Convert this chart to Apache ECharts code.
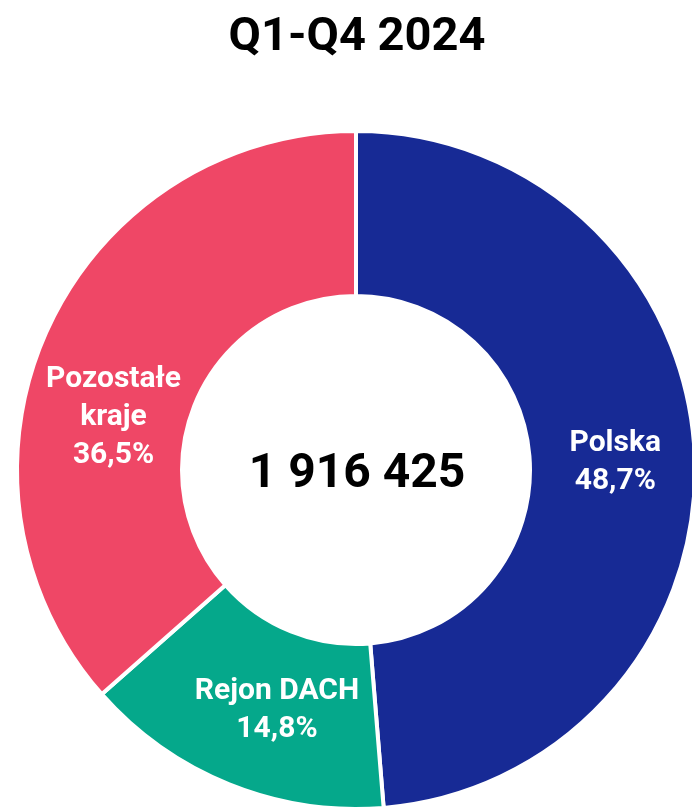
<!DOCTYPE html>
<html>
<head>
<meta charset="utf-8">
<script src="https://cdn.jsdelivr.net/npm/echarts@6/dist/echarts.min.js"></script>
<style>
  html, body { margin: 0; padding: 0; background: #ffffff; }
  #chart { width: 692px; height: 810px; }
</style>
</head>
<body>
<div id="chart"></div>
<script>
const titleText = 'Q1-Q4 2024';
const categories = ['Polska', 'Rejon DACH', 'Pozostałe\nkraje'];
const shares = [48.7, 14.8, 36.5];
const total = 1916425;
const colors = ['#172a95', '#05a88b', '#ef4766'];
const labelOffsets = [[0, 3], [18, 0], [-6, 54]];

function fmtPct(v) { return v.toFixed(1).replace('.', ',') + '%'; }
function fmtTotal(v) { return String(v).replace(/\B(?=(\d{3})+(?!\d))/g, ' '); }

const chart = echarts.init(document.getElementById('chart'), null, { renderer: 'canvas' });
chart.setOption({
  backgroundColor: '#ffffff',
  animation: false,
  title: [{
    text: titleText,
    left: 352,
    top: 10,
    textAlign: 'center',
    textStyle: { fontFamily: 'Roboto', fontWeight: 'bold', fontSize: 47, color: '#000' }
  }, {
    text: fmtTotal(total),
    left: 352,
    top: 470,
    textAlign: 'center',
    textVerticalAlign: 'middle',
    textStyle: { fontFamily: 'Roboto', fontWeight: 'bold', fontSize: 48, color: '#000' }
  }],
  series: [{
    type: 'pie',
    center: [356, 470],
    radius: [174, 339],
    startAngle: 90,
    clockwise: true,
    avoidLabelOverlap: false,
    itemStyle: { borderColor: '#ffffff', borderWidth: 4 },
    label: {
      show: true,
      position: 'inside',
      color: '#ffffff',
      fontFamily: 'Roboto',
      fontWeight: 'bold',
      fontSize: 30,
      lineHeight: 38,
      align: 'center',
      formatter: p => p.name + '\n' + fmtPct(p.value)
    },
    labelLine: { show: false },
    emphasis: { disabled: true },
    data: categories.map((c, i) => ({
      name: c,
      value: shares[i],
      itemStyle: { color: colors[i] },
      label: { offset: labelOffsets[i] }
    }))
  }]
});
</script>
</body>
</html>
